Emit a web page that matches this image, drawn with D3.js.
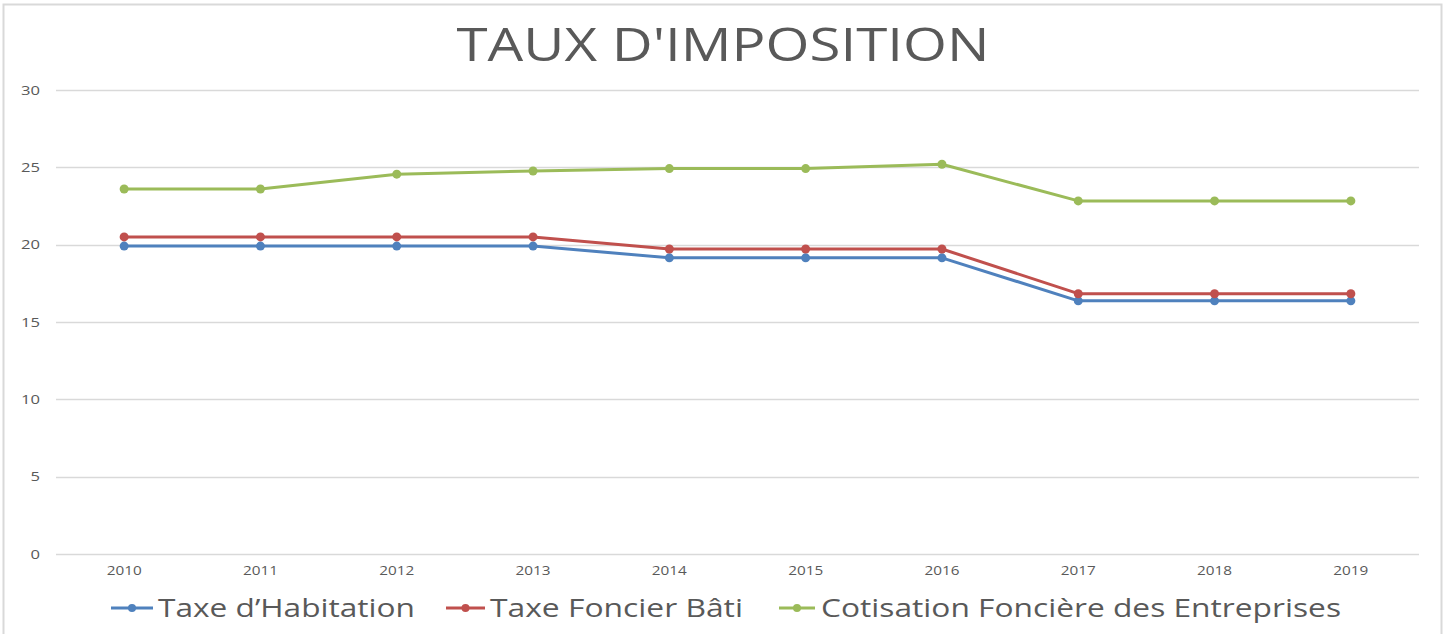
<!DOCTYPE html>
<html>
<head>
<meta charset="utf-8">
<script src="https://cdn.jsdelivr.net/npm/d3@7"></script>
<style>
  body { margin: 0; background: #fff; }
  text { font-family: "Open Sans", "Liberation Sans", sans-serif; fill: #595959; }
</style>
</head>
<body>
<svg id="chart" width="1449" height="634"></svg>
<script>
// categories and series
var years = ["2010", "2011", "2012", "2013", "2014", "2015", "2016", "2017", "2018", "2019"];
var habitation = [19.91, 19.91, 19.91, 19.91, 19.15, 19.15, 19.15, 16.37, 16.37, 16.37];
var foncierBati = [20.5, 20.5, 20.5, 20.5, 19.72, 19.72, 19.72, 16.83, 16.83, 16.83];
var cfe = [23.6, 23.6, 24.56, 24.76, 24.92, 24.92, 25.2, 22.83, 22.83, 22.83];
var yTicks = [0, 5, 10, 15, 20, 25, 30];
var seriesNames = ["Taxe d\u2019Habitation", "Taxe Foncier B\u00e2ti", "Cotisation Fonci\u00e8re des Entreprises"];

var colors = ["#4f81bd", "#c0504d", "#9bbb59"];
var series = [habitation, foncierBati, cfe];

var svg = d3.select("#chart");

// outer frame
svg.append("rect")
  .attr("x", 3.5).attr("y", 4.5)
  .attr("width", 1438).attr("height", 640)
  .attr("fill", "none")
  .attr("stroke", "#d9d9d9")
  .attr("stroke-width", 2);

var margin = { left: 56, right: 1419, top: 90, bottom: 554 };

var x = d3.scaleBand()
  .domain(years)
  .range([margin.left, margin.right]);

var y = d3.scaleLinear()
  .domain([0, 30])
  .range([margin.bottom, margin.top]);

// gridlines
svg.append("g")
  .selectAll("line")
  .data(yTicks)
  .enter().append("line")
  .attr("x1", margin.left).attr("x2", margin.right)
  .attr("y1", function (d) { return Math.round(y(d)) + 0.5; })
  .attr("y2", function (d) { return Math.round(y(d)) + 0.5; })
  .attr("stroke", "#d9d9d9")
  .attr("stroke-width", 1.3);

// y axis labels
var yAxis = d3.axisLeft(y).tickValues(yTicks).tickSize(0).tickPadding(16);
var gy = svg.append("g")
  .attr("transform", "translate(" + margin.left + ",0)")
  .call(yAxis);
gy.select(".domain").remove();
gy.selectAll("text")
  .style("font-size", "13px")
  .attr("fill", "#595959")
  .attr("textLength", function (d) { return String(d).length * 9.5; })
  .attr("lengthAdjust", "spacingAndGlyphs");

// x axis labels
var xAxis = d3.axisBottom(x).tickSize(0).tickPadding(11);
var gx = svg.append("g")
  .attr("transform", "translate(0," + margin.bottom + ")")
  .call(xAxis);
gx.select(".domain").remove();
gx.selectAll("text")
  .style("font-size", "13.5px")
  .attr("fill", "#595959")
  .attr("textLength", 35)
  .attr("lengthAdjust", "spacingAndGlyphs");

// lines
var line = d3.line()
  .x(function (d, i) { return x(years[i]) + x.bandwidth() / 2; })
  .y(function (d) { return y(d); });

series.forEach(function (s, k) {
  svg.append("path")
    .datum(s)
    .attr("d", line)
    .attr("fill", "none")
    .attr("stroke", colors[k])
    .attr("stroke-width", 3)
    .attr("stroke-linejoin", "round");

  svg.append("g")
    .selectAll("circle")
    .data(s)
    .enter().append("circle")
    .attr("cx", function (d, i) { return x(years[i]) + x.bandwidth() / 2; })
    .attr("cy", function (d) { return y(d); })
    .attr("r", 4.5)
    .attr("fill", colors[k]);
});

// title
svg.append("text")
  .attr("x", 723)
  .attr("y", 61)
  .attr("text-anchor", "middle")
  .attr("textLength", 533)
  .attr("lengthAdjust", "spacingAndGlyphs")
  .style("font-size", "46px")
  .text("TAUX D'IMPOSITION");

// legend
var legendItems = [
  { x1: 111, x2: 153, tx: 158, tw: 257 },
  { x1: 446, x2: 485, tx: 490, tw: 253 },
  { x1: 779, x2: 815, tx: 821, tw: 520 }
];
var ly = 608;
var legend = svg.append("g");
legendItems.forEach(function (it, k) {
  legend.append("line")
    .attr("x1", it.x1).attr("x2", it.x2)
    .attr("y1", ly).attr("y2", ly)
    .attr("stroke", colors[k])
    .attr("stroke-width", 3);
  legend.append("circle")
    .attr("cx", (it.x1 + it.x2) / 2)
    .attr("cy", ly)
    .attr("r", 4)
    .attr("fill", colors[k]);
  legend.append("text")
    .attr("x", it.tx)
    .attr("y", ly + 9)
    .attr("textLength", it.tw)
    .attr("lengthAdjust", "spacingAndGlyphs")
    .style("font-size", "25px")
    .text(seriesNames[k]);
});
</script>
</body>
</html>
